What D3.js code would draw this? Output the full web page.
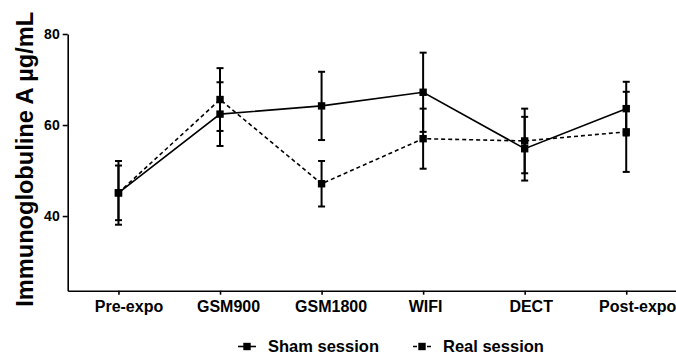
<!DOCTYPE html>
<html>
<head>
<meta charset="utf-8">
<script src="https://cdn.jsdelivr.net/npm/d3@7"></script>
<style>
html,body{margin:0;padding:0;background:#fff;}
svg text{font-family:"Liberation Sans",Arial,sans-serif;font-weight:bold;fill:#000;}
</style>
</head>
<body>
<svg id="chart" width="676" height="356"></svg>
<script>
const categories = ["Pre-expo","GSM900","GSM1800","WIFI","DECT","Post-expo"];
const shamMean = [45.1, 62.4, 64.2, 67.2, 54.8, 63.6];
const shamErr  = [7.0, 7.0, 7.5, 8.7, 7.0, 5.9];
const realMean = [45.1, 65.6, 47.1, 57.0, 56.5, 58.5];
const realErr  = [6.0, 6.9, 5.0, 6.6, 7.1, 8.8];
const yTicks = [40, 60, 80];
const seriesNames = ["Sham session", "Real session"];
const yLabel = "Immunoglobuline A µg/mL";

const svg = d3.select("#chart");
const x = d3.scalePoint().domain(categories).range([67.7, 677]).padding(0.5);
const y = d3.scaleLinear().domain([23.6, 80]).range([290.7, 34]);

const series = [
  {name: seriesNames[0], mean: shamMean, err: shamErr, dash: null},
  {name: seriesNames[1], mean: realMean, err: realErr, dash: "4,3"}
];

// axes
const yAxis = svg.append("g").attr("transform","translate(67.7,0)")
  .call(d3.axisLeft(y).tickValues(yTicks).tickSize(5).tickSizeOuter(0).tickPadding(3));
const xAxis = svg.append("g").attr("transform","translate(0,290.7)")
  .call(d3.axisBottom(x).tickSize(4).tickSizeOuter(0).tickPadding(6));
[yAxis, xAxis].forEach(g => {
  g.select(".domain").attr("stroke","#000").attr("stroke-width",1.6);
  g.selectAll(".tick line").attr("stroke","#000").attr("stroke-width",1.6);
});
yAxis.selectAll("text").style("font-size","14px").attr("fill","#000");
const labelShift = [10, 8, 9, 2, 6, 11];
xAxis.selectAll("text").style("font-size","16px").attr("fill","#000")
  .attr("dx", (d,i) => labelShift[i]);

// y label
svg.append("text")
  .attr("transform","translate(33,159.3) rotate(-90)")
  .attr("text-anchor","middle")
  .style("font-size","23.6px")
  .text(yLabel);

const line = d3.line().x((d,i)=>x(categories[i])).y(d=>y(d));

series.forEach(s => {
  svg.append("path").datum(s.mean)
    .attr("d", line).attr("fill","none").attr("stroke","#000")
    .attr("stroke-width",1.6).attr("stroke-dasharray", s.dash);
});

series.forEach(s => {
  const g = svg.append("g");
  s.mean.forEach((m,i) => {
    const cx = x(categories[i]);
    const hi = y(m + s.err[i]), lo = y(m - s.err[i]);
    g.append("line").attr("x1",cx).attr("x2",cx).attr("y1",hi).attr("y2",lo)
      .attr("stroke","#000").attr("stroke-width",2);
    [hi, lo].forEach(yy => g.append("line").attr("x1",cx-3.5).attr("x2",cx+3.5)
      .attr("y1",yy).attr("y2",yy).attr("stroke","#000").attr("stroke-width",2));
  });
});

series.forEach(s => {
  svg.append("g").selectAll("rect").data(s.mean).join("rect")
    .attr("x",(d,i)=>x(categories[i])-3.7).attr("y",d=>y(d)-3.7)
    .attr("width",7.4).attr("height",7.4).attr("fill","#000");
});

// legend
const legendItems = [
  {name: seriesNames[0], x0: 238, dash: null, tx: 268},
  {name: seriesNames[1], x0: 413, dash: "4,3", tx: 443}
];
legendItems.forEach(l => {
  const ly = 346.5;
  svg.append("line").attr("x1",l.x0).attr("x2",l.x0+18).attr("y1",ly).attr("y2",ly)
    .attr("stroke","#000").attr("stroke-width",1.6).attr("stroke-dasharray", l.dash);
  svg.append("rect").attr("x",l.x0+9-3.7).attr("y",ly-3.7).attr("width",7.4).attr("height",7.4).attr("fill","#000");
  svg.append("text").attr("x",l.tx).attr("y",352).style("font-size","16.5px").text(l.name);
});
</script>
</body>
</html>
